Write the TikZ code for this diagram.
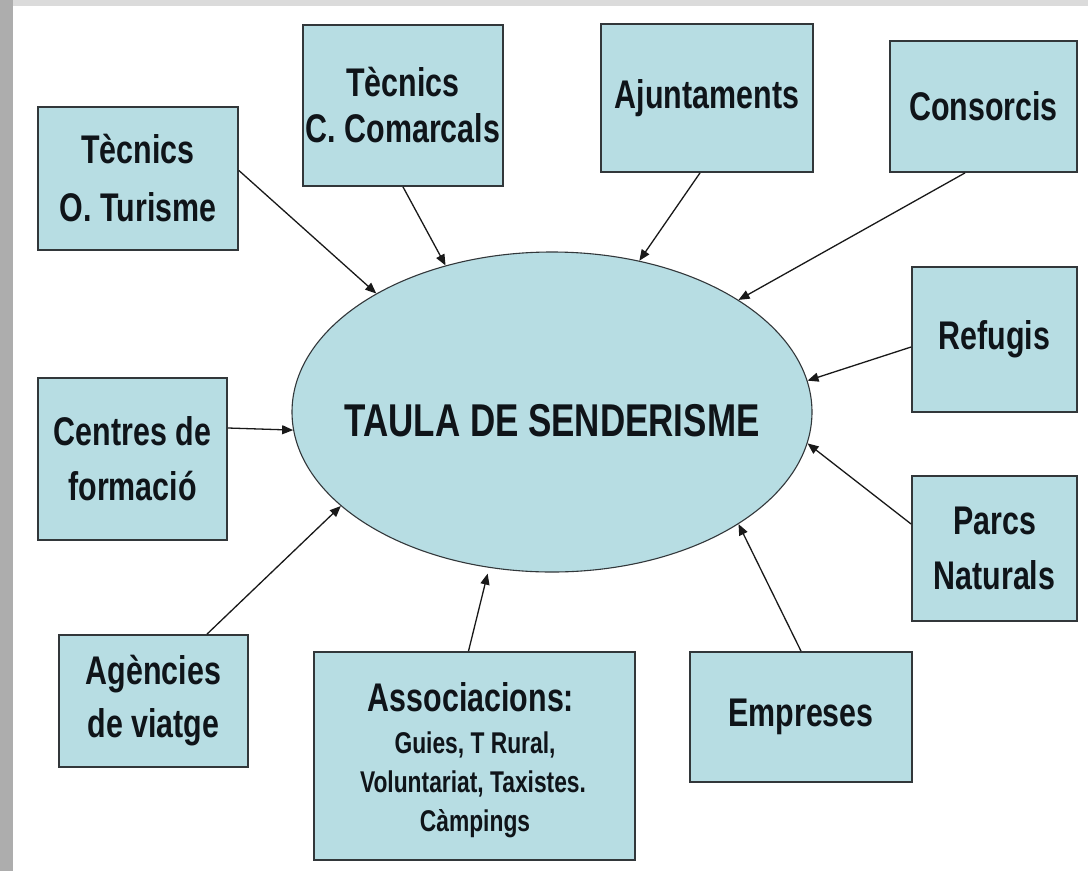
\documentclass[tikz,border=0pt]{standalone}
\usepackage{fontspec}
\setmainfont{Liberation Sans}[FakeStretch=0.76]
\usetikzlibrary{shapes.geometric,arrows.meta}
\definecolor{boxfill}{RGB}{183,221,227}
\definecolor{boxline}{RGB}{50,55,58}
\definecolor{arrowc}{RGB}{25,25,25}
\definecolor{txt}{RGB}{15,20,25}
\tikzset{
  card/.style={rectangle, draw=boxline, line width=1.8pt, fill=boxfill,
    inner sep=0pt, align=center, text=txt},
  cardfont/.style={font=\bfseries\fontsize{40}{#1}\selectfont},
  hub/.style={ellipse, draw=boxline, line width=1.1pt, fill=boxfill,
    inner sep=0pt, minimum width=520pt, minimum height=320pt},
  feed/.style={-{Triangle[length=11pt,width=9pt]}, line width=1.3pt, draw=arrowc},
  lbl/.style={anchor=base, inner sep=0pt, text=txt}
}
\begin{document}
\begin{tikzpicture}[x=1pt,y=-1pt]
\useasboundingbox (0,0) rectangle (1088,871);
% background
\fill[black!32] (0,0) rectangle (1088,871);
\fill[black!14] (13,0) rectangle (1088,6);
\fill[white] (13,6) rectangle (1088,871);

% central ellipse
\node[hub] (hub) at (552,412) {};
\node[inner sep=0pt, text=txt, font=\bfseries\fontsize{46}{52}\selectfont] (title) at (552,421) {TAULA DE SENDERISME};

% boxes
\node[card, cardfont=58, minimum width=200pt, minimum height=143pt] (tur) at (138,178.5) {Tècnics\\O. Turisme};
\node[card, cardfont=46, minimum width=200pt, minimum height=161pt] (com) at (403,105.5) {Tècnics\\C. Comarcals};
\node[card, cardfont=46, minimum width=212pt, minimum height=148pt] (aju) at (707,98) {Ajuntaments};
\node[card, cardfont=46, minimum width=187pt, minimum height=131pt] (con) at (983.5,106.5) {Consorcis};
\node[card, cardfont=46, minimum width=165pt, minimum height=145pt] (ref) at (994.5,339.5) {Refugis};
\node[card, cardfont=55, minimum width=165pt, minimum height=145pt] (par) at (994.5,548.5) {Parcs\\Naturals};
\node[card, cardfont=55, minimum width=189pt, minimum height=162pt] (cen) at (132.5,459) {Centres de\\formació};
\node[card, cardfont=53, minimum width=189pt, minimum height=132pt] (age) at (153.5,701) {Agències\\de viatge};
\node[card, cardfont=46, minimum width=222pt, minimum height=130pt] (emp) at (801,717) {Empreses};
\node[card, minimum width=321pt, minimum height=208pt] (ass) at (474.5,756) {};
\node[lbl, font=\bfseries\fontsize{40}{46}\selectfont] (ass1) at (471,711) {Associacions:};
\node[lbl, font=\bfseries\fontsize{30}{36}\selectfont] (ass2) at (475,753) {Guies, T Rural,};
\node[lbl, font=\bfseries\fontsize{30}{36}\selectfont] (ass3) at (473,792) {Voluntariat, Taxistes.};
\node[lbl, font=\bfseries\fontsize{30}{36}\selectfont] (ass4) at (475,831) {Càmpings};

% connectors
\draw[feed] ([yshift=8pt]tur.east) -- (hub.146.8);
\draw[feed] (com.south) -- (hub.126.2);
\draw[feed] ([xshift=-7pt]aju.south) -- (hub.60.5);
\draw[feed] ([xshift=-18.5pt]con.south) -- (hub.31);
\draw[feed] ([yshift=-7.5pt]ref.west) -- (hub.7.7);
\draw[feed] ([yshift=24.5pt]par.west) -- (hub.-7.9);
\draw[feed] ([yshift=31pt]cen.east) -- (hub.-176.5);
\draw[feed] ([xshift=53.5pt]age.north) -- (hub.-156.1);
\draw[feed, shorten >=6pt] ([xshift=-6pt]ass.north) -- (hub.-112.8);
\draw[feed] (emp.north) -- (hub.-31.9);
\end{tikzpicture}
\end{document}
